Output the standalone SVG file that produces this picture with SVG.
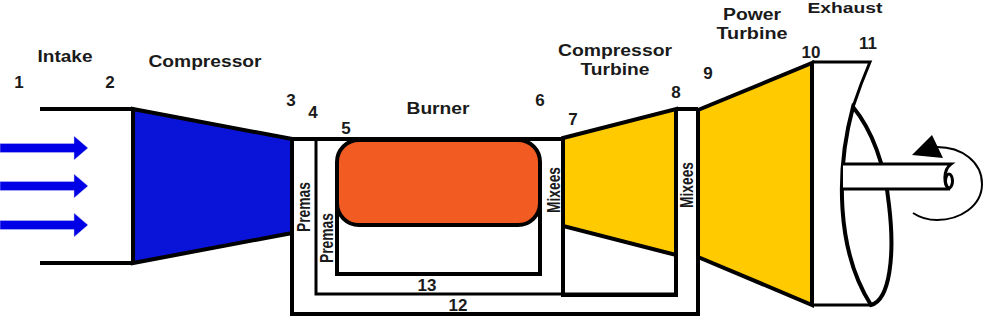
<svg xmlns="http://www.w3.org/2000/svg" width="986" height="328" viewBox="0 0 986 328">
  <style>
    .ln { fill: none; stroke: #000; stroke-width: 4; stroke-linejoin: miter; stroke-linecap: butt; }
    .thin { stroke-width: 3; }
    .part { stroke: #000; stroke-width: 4; stroke-linejoin: miter; }
    .lbl { font-family: "Liberation Sans", Arial, sans-serif; font-size: 16px; font-weight: bold; fill: #1a1a1a; text-anchor: middle; }
    .num { font-size: 17px; }
    .side { font-family: "Liberation Sans", Arial, sans-serif; font-size: 18px; font-weight: bold; fill: #1a1a1a; }
    .flow { fill: #0000e6; stroke: #c4c4f2; stroke-width: 0.5; }
  </style>
  <rect width="986" height="328" fill="#fff"/>

  <!-- Intake duct -->
  <g id="intake">
    <path class="ln" d="M40 109H133M40 263H133"/>
  </g>

  <!-- Compressor stage -->
  <g id="compressor">
    <polygon class="part" fill="#0a14d8" points="133,109 292,139 292,233 133,263"/>
  </g>

  <!-- Burner can and its surrounding liner -->
  <g id="burner">
    <path class="ln" d="M337 178V274H540V178"/>
    <rect class="part" x="337" y="140" width="203" height="85" rx="22" ry="22" fill="#f25c22"/>
  </g>

  <!-- Compressor turbine stage -->
  <g id="compressor-turbine">
    <polygon class="part" fill="#ffcb00" points="563,138 676,109 676,255 563,226"/>
  </g>

  <!-- Power turbine stage -->
  <g id="power-turbine">
    <polygon class="part" fill="#ffcb00" points="698,110 812,63 812,305 698,257"/>
  </g>

  <!-- Exhaust casing with output shaft -->
  <g id="exhaust">
    <path class="ln thin" d="M812 62H870C864 76 858 92 853 107M812 305H871"/>
    <path class="ln" d="M853 107C836 170 836 250 871 305C890 300 895 255 889 205C885 165 872 130 853 107Z"/>
    <path d="M843 165H950V188L843 189Z" fill="#fff"/>
    <path class="ln thin" d="M843 164H951C943 170 943 186 950 189H843"/>
    <ellipse cx="949" cy="181" rx="3.5" ry="7" class="ln thin"/>
  </g>

  <!-- Gas paths: inlet flow, bleed lines, rotation sense -->
  <g id="connectors">
    <polygon class="flow" points="0,143.500 74,143.500 74,136 88,148 74,160 74,152.500 0,152.500"/>
    <polygon class="flow" points="0,181.500 74,181.500 74,174 88,186 74,198 74,190.500 0,190.500"/>
    <polygon class="flow" points="0,220.500 74,220.500 74,213 88,225 74,237 74,229.500 0,229.500"/>
    <path class="ln" d="M292 139H563"/>
    <path class="ln" d="M292 139V314H698V110"/>
    <path class="ln thin" d="M316 140V294H676"/>
    <path class="ln" d="M563 138V295H676V255"/>
    <path class="ln" d="M676 109H698"/>
    <path class="ln" style="stroke-width:2" d="M937 147C962 147 982 162 982 184C982 206 960 220 937 220C928 220 919 217 913 213"/>
    <polygon points="912,155 932,135 943,158" fill="#000"/>
  </g>

  <!-- Labels -->
  <g id="labels">
    <text class="lbl" x="65" y="62" textLength="55" lengthAdjust="spacingAndGlyphs">Intake</text>
    <text class="lbl" x="205" y="67" textLength="113" lengthAdjust="spacingAndGlyphs">Compressor</text>
    <text class="lbl" x="438" y="114" textLength="63" lengthAdjust="spacingAndGlyphs">Burner</text>
    <text class="lbl" x="615" y="56" textLength="114" lengthAdjust="spacingAndGlyphs">Compressor</text>
    <text class="lbl" x="615" y="75" textLength="69" lengthAdjust="spacingAndGlyphs">Turbine</text>
    <text class="lbl" x="752" y="20" textLength="58" lengthAdjust="spacingAndGlyphs">Power</text>
    <text class="lbl" x="752" y="39" textLength="71" lengthAdjust="spacingAndGlyphs">Turbine</text>
    <text class="lbl" style="font-size:14px" x="845" y="13" textLength="75" lengthAdjust="spacingAndGlyphs">Exhaust</text>
    <text class="lbl num" x="19" y="88">1</text>
    <text class="lbl num" x="110" y="88">2</text>
    <text class="lbl num" x="291" y="106">3</text>
    <text class="lbl num" x="313" y="118">4</text>
    <text class="lbl num" x="346" y="134">5</text>
    <text class="lbl num" x="540" y="106">6</text>
    <text class="lbl num" x="573" y="125">7</text>
    <text class="lbl num" x="676" y="98">8</text>
    <text class="lbl num" x="708" y="79">9</text>
    <text class="lbl num" x="811" y="58">10</text>
    <text class="lbl num" x="868" y="49">11</text>
    <text class="lbl num" x="458" y="311">12</text>
    <text class="lbl num" x="427" y="291">13</text>
    <text class="side" transform="translate(309.500 232) rotate(-90)" textLength="50" lengthAdjust="spacingAndGlyphs">Premas</text>
    <text class="side" transform="translate(333 263) rotate(-90)" textLength="50" lengthAdjust="spacingAndGlyphs">Premas</text>
    <text class="side" transform="translate(559.500 213) rotate(-90)" textLength="46" lengthAdjust="spacingAndGlyphs">Mixees</text>
    <text class="side" transform="translate(692.500 208) rotate(-90)" textLength="46" lengthAdjust="spacingAndGlyphs">Mixees</text>
  </g>
</svg>
